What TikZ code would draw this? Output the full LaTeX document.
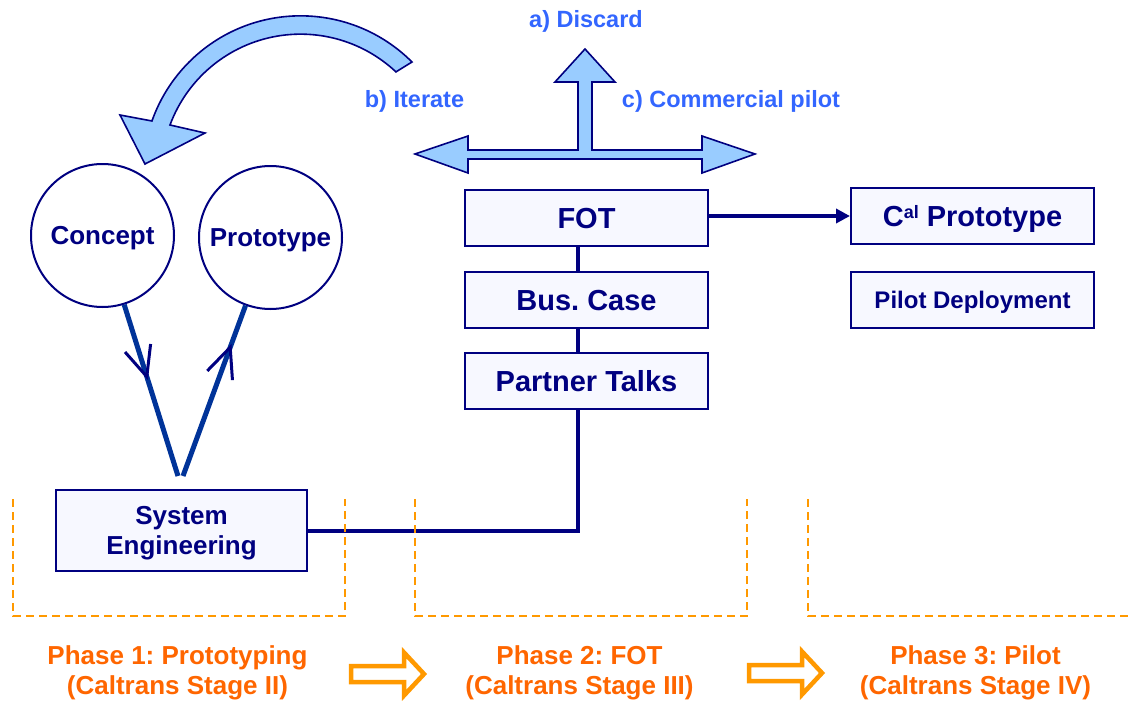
\documentclass[tikz,border=0pt]{standalone}
\usepackage{fontspec}
\setmainfont{Liberation Sans}
\frenchspacing
\usetikzlibrary{arrows.meta,decorations.markings,calc}
\definecolor{navy}{HTML}{000080}
\definecolor{vblue}{HTML}{003399}
\definecolor{lblue}{HTML}{99CCFF}
\definecolor{labblue}{HTML}{3366FF}
\definecolor{phorange}{HTML}{FF6600}
\definecolor{dashorange}{HTML}{FF9900}
\definecolor{boxfill}{HTML}{F7F8FF}
\begin{document}
\frenchspacing
\begin{tikzpicture}[x=1pt,y=-1pt,
  bubble/.style={circle,draw=navy,line width=2pt,fill=white,minimum size=143pt,inner sep=0pt,
    text=navy,font=\fontsize{26}{30}\selectfont\bfseries,text height=18.6pt,text depth=0pt},
  stagebox/.style={rectangle,draw=navy,line width=2pt,fill=boxfill,inner sep=0pt,
    minimum width=243pt,minimum height=56pt,text=navy,
    font=\fontsize{29}{33}\selectfont\bfseries,text height=20.8pt,text depth=0pt},
  engbox/.style={rectangle,draw=navy,line width=2pt,fill=boxfill,inner sep=0pt,
    minimum width=251pt,minimum height=81pt,text=navy,align=center,
    font=\fontsize{26}{30}\selectfont\bfseries},
  optlabel/.style={text=labblue,font=\fontsize{23.5}{27}\selectfont\bfseries,
    inner sep=0pt,text height=16.8pt,text depth=0pt},
  phaselabel/.style={text=phorange,font=\fontsize{26}{30}\selectfont\bfseries,
    inner sep=0pt,align=center},
  link/.style={draw=navy,line width=4pt},
  vline/.style={draw=vblue,line width=5pt},
  wing/.style={draw=navy,line width=3pt},
  blockarrow/.style={draw=navy,line width=1.6pt,fill=lblue,line join=miter},
  hollow/.style={draw=dashorange,line width=4.5pt,fill=white,line join=miter},
  phasedash/.style={draw=dashorange,line width=1.8pt,dash pattern=on 8pt off 5pt}
]
\useasboundingbox (0,0) rectangle (1130,701);

% curved "iterate" arrow
\path[blockarrow] (412,62) arc[start angle=-45, end angle=-160.56, radius=157.6]
  -- (120,115) -- (145,164) -- (205,133) -- (170,125)
  arc[start angle=-159.65, end angle=-46.8, radius=139.3] -- cycle;

% three-way arrow
\path[blockarrow] (415,154) -- (468,136) -- (468,150) -- (578,150) -- (578,82)
  -- (555,82) -- (585,49) -- (615,82) -- (592,82) -- (592,150) -- (702,150)
  -- (702,136) -- (755,154) -- (702,173) -- (702,159) -- (468,159) -- (468,173) -- cycle;

% option labels
\node[optlabel] (discard) at (586,19.5) {a) Discard};
\node[optlabel] (iterate) at (414.5,99) {b) Iterate};
\node[optlabel] (commercial) at (731,99) {c) Commercial pilot};

% circles
\node[bubble] (concept) at (102.5,235.5) {Concept};
\node[bubble] (proto) at (270.5,237.5) {Prototype};

% boxes
\node[stagebox] (fot) at (586.5,218) {FOT};
\node[stagebox] (bus) at (586.5,300) {Bus. Case};
\node[stagebox] (partner) at (586.5,381) {Partner Talks};
\node[stagebox] (cal) at (972.5,216) {C\raisebox{7.8pt}{\fontsize{18}{18}\selectfont al} Prototype};
\node[stagebox,font=\fontsize{24}{28}\selectfont\bfseries,text height=17.2pt] (pilot) at (972.5,300) {Pilot Deployment};
\node[engbox] (syseng) at (181.5,530.5) {System\\\raisebox{0pt}[\height][0pt]{Engineering}};

% V connectors with open arrow marks
\coordinate (apexL) at (178,476);
\coordinate (apexR) at (183,476);
\draw[vline,postaction={decorate},decoration={markings,
  mark=at position 0.42 with {\draw[wing] (-30,13.4) -- (0,0) -- (-30,-13.4);}}]
  (concept) -- (apexL);
\draw[vline,postaction={decorate},decoration={markings,
  mark=at position 0.755 with {\draw[wing] (-30,13.4) -- (0,0) -- (-30,-13.4);}}]
  (apexR) -- (proto);

% spine connectors
\coordinate (spine) at (578,531);
\draw[link] (fot.south -| spine) -- (bus.north -| spine);
\draw[link] (bus.south -| spine) -- (partner.north -| spine);
\draw[link] (partner.south -| spine) -- (spine) -- (syseng.east |- spine);
\draw[link,-{Triangle[length=14pt,width=14pt]}] (fot.east |- cal.west) -- (cal.west);

% phase frames
\draw[phasedash] (13,499) -- (13,616) -- (345,616) -- (345,499);
\draw[phasedash] (415,499) -- (415,616) -- (747,616) -- (747,499);
\draw[phasedash] (808,499) -- (808,616) -- (1130,616);

% phase labels
\node[phaselabel] (ph1) at (177.5,670.5) {Phase 1: Prototyping\\\raisebox{0pt}[\height][0pt]{(Caltrans Stage II)}};
\node[phaselabel] (ph2) at (579.5,670.5) {Phase 2: FOT\\\raisebox{0pt}[\height][0pt]{(Caltrans Stage III)}};
\node[phaselabel] (ph3) at (975.5,670.5) {Phase 3: Pilot\\\raisebox{0pt}[\height][0pt]{(Caltrans Stage IV)}};

% hollow progression arrows
\path[hollow] (351,666) -- (404,666) -- (404,652.5) -- (424,674) -- (404,695.5) -- (404,682) -- (351,682) -- cycle;
\path[hollow] (749,665) -- (802,665) -- (802,651.5) -- (822,673) -- (802,694.5) -- (802,681) -- (749,681) -- cycle;
\end{tikzpicture}
\end{document}
